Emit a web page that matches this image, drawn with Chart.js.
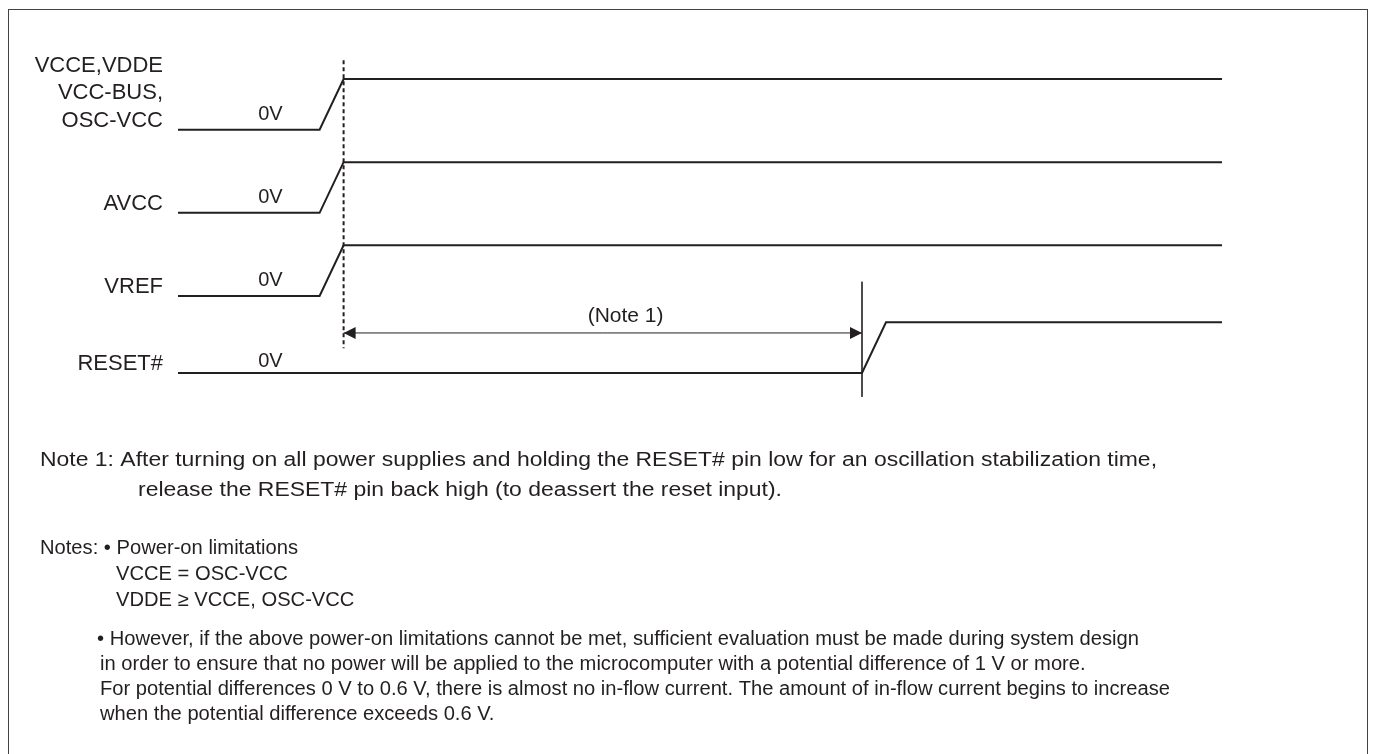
<!DOCTYPE html>
<html>
<head>
<meta charset="utf-8">
<script src="https://cdn.jsdelivr.net/npm/chart.js@4"></script>
<style>
  html, body { margin: 0; padding: 0; background: #fff; }
  canvas { display: block; }
</style>
</head>
<body>
<canvas id="timing" width="1374" height="754"></canvas>
<script>
// signals, top to bottom
const signalNames = [['VCCE,VDDE', 'VCC-BUS,', 'OSC-VCC'], ['AVCC'], ['VREF'], ['RESET#']];
// low level of each lane, in swing units above the RESET# low level
const laneBase = [4.8, 3.16, 1.52, 0];

// time axis: 1 unit = one ramp, power rails start rising at t = 0
const powerTimes = [-5.9, 0, 1, 37.6];
const powerLevels = [0, 0, 1, 1];
const resetTimes = [-5.9, 22.6, 23.6, 37.6];
const resetLevels = [0, 0, 1, 1];

// markers
const powerOnTime = 1;
const powerOnSpan = [6.17, 0.49];
const releaseTime = 22.6;
const releaseSpan = [1.8, -0.47];
const arrowLevel = 0.79;

const lowLabel = '0V';
const note1Label = '(Note 1)';
const note1Lines = [
  'Note 1: After turning on all power supplies and holding the RESET# pin low for an oscillation stabilization time,',
  'release the RESET# pin back high (to deassert the reset input).'
];
const notesLines = [
  'Notes: \u2022 Power-on limitations',
  'VCCE = OSC-VCC',
  'VDDE \u2265 VCCE, OSC-VCC',
  '\u2022 However, if the above power-on limitations cannot be met, sufficient evaluation must be made during system design',
  'in order to ensure that no power will be applied to the microcomputer with a potential difference of 1 V or more.',
  'For potential differences 0 V to 0.6 V, there is almost no in-flow current. The amount of in-flow current begins to increase',
  'when the potential difference exceeds 0.6 V.'
];

const INK = '#231f20';
const FONT = '"Liberation Sans", Arial, sans-serif';

function trace(times, levels, lane) {
  return times.map((t, i) => ({ x: t, y: laneBase[lane] + levels[i] }));
}

const datasets = [];
for (let lane = 0; lane < 3; lane++) {
  datasets.push({ data: trace(powerTimes, powerLevels, lane), borderColor: INK, borderWidth: 2 });
}
datasets.push({ data: trace(resetTimes, resetLevels, 3), borderColor: INK, borderWidth: 2 });
datasets.push({
  data: powerOnSpan.map(y => ({ x: powerOnTime, y })),
  borderColor: INK, borderWidth: 2, borderDash: [4, 3]
});
datasets.push({
  data: releaseSpan.map(y => ({ x: releaseTime, y })),
  borderColor: '#333', borderWidth: 1
});
datasets.push({
  data: [{ x: powerOnTime, y: arrowLevel }, { x: releaseTime, y: arrowLevel }],
  borderColor: INK, borderWidth: 1
});
datasets.forEach(d => { d.clip = false; d.pointRadius = 0; d.tension = 0; d.fill = false; });

// text blocks: lines, [x, baseline] per line, and the line used to set the width
const textBlocks = [
  { lines: note1Lines, pos: [[40, 466], [138, 496]], fit: [0, 1117] },
  { lines: notesLines,
    pos: [[40, 554], [116, 580], [116, 606], [97, 645], [100, 670], [100, 695], [100, 720]],
    fit: [5, 1070] }
];

function arrowHead(ctx, x, y, dir) {
  ctx.beginPath();
  ctx.moveTo(x, y);
  ctx.lineTo(x - dir * 12, y - 6);
  ctx.lineTo(x - dir * 12, y + 6);
  ctx.closePath();
  ctx.fill();
}

const diagramText = {
  id: 'diagramText',
  beforeDraw(chart) {
    const ctx = chart.ctx;
    ctx.save();
    ctx.fillStyle = '#fff';
    ctx.fillRect(0, 0, chart.width, chart.height);
    ctx.strokeStyle = '#444';
    ctx.lineWidth = 1;
    ctx.strokeRect(8.5, 9.5, 1359, 770);
    ctx.restore();
  },
  afterDraw(chart) {
    const ctx = chart.ctx;
    const xs = chart.scales.x, ys = chart.scales.y;
    ctx.save();
    ctx.fillStyle = INK;
    ctx.textBaseline = 'alphabetic';

    // signal names and 0V labels
    signalNames.forEach((lines, lane) => {
      const low = ys.getPixelForValue(laneBase[lane]);
      ctx.font = '22px ' + FONT;
      ctx.textAlign = 'right';
      lines.slice().reverse().forEach((s, k) => {
        ctx.fillText(s, chart.chartArea.left - 15, low - 3 - k * 27.5);
      });
      ctx.font = '20px ' + FONT;
      ctx.textAlign = 'center';
      ctx.fillText(lowLabel, xs.getPixelForValue(-2.05), low - (lane === 3 ? 6 : 10));
    });

    // Note 1 interval
    ctx.font = '21px ' + FONT;
    ctx.textAlign = 'center';
    ctx.fillText(note1Label, xs.getPixelForValue(12.75), ys.getPixelForValue(1.0));
    const ay = ys.getPixelForValue(arrowLevel);
    arrowHead(ctx, xs.getPixelForValue(powerOnTime), ay, -1);
    arrowHead(ctx, xs.getPixelForValue(releaseTime), ay, 1);

    // notes below the diagram, one horizontal scale per block
    ctx.font = '20px ' + FONT;
    ctx.textAlign = 'left';
    textBlocks.forEach(block => {
      const sx = block.fit[1] / ctx.measureText(block.lines[block.fit[0]]).width;
      block.lines.forEach((s, i) => {
        const [x, y] = block.pos[i];
        ctx.save();
        ctx.translate(x, y);
        ctx.scale(sx, 1);
        ctx.fillText(s, 0, 0);
        ctx.restore();
      });
    });
    ctx.restore();
  }
};

new Chart(document.getElementById('timing'), {
  type: 'line',
  data: { datasets },
  options: {
    responsive: false,
    animation: false,
    events: [],
    layout: { padding: { left: 178, right: 152, top: 79, bottom: 381 } },
    scales: {
      x: { type: 'linear', min: powerTimes[0], max: powerTimes[powerTimes.length - 1], display: false },
      y: { type: 'linear', min: 0, max: laneBase[0] + 1, display: false }
    },
    plugins: { legend: { display: false }, tooltip: { enabled: false } }
  },
  plugins: [diagramText]
});
</script>
</body>
</html>
